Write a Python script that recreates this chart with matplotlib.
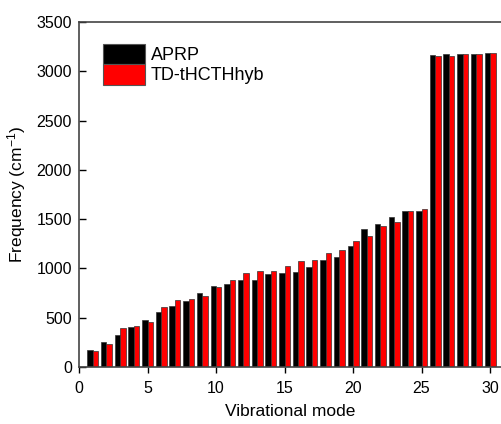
import numpy as np
import matplotlib.pyplot as plt

plt.rcParams['font.family'] = ['Liberation Sans', 'DejaVu Sans']
plt.rcParams['mathtext.default'] = 'regular'

# 振動モード
modes = np.arange(1, 31)

# APRP の振動数 (cm^-1)
aprp = [173, 252, 329, 407, 472, 553, 621, 669, 754, 825,
        845, 879, 879, 947, 954, 964, 1015, 1090, 1117, 1229,
        1400, 1450, 1522, 1585, 1585, 3170, 3171, 3171, 3171, 3182]

# TD-tHCTHhyb の振動数 (cm^-1)
tdhcth = [166, 238, 400, 414, 458, 604, 675, 692, 720, 811,
          879, 952, 972, 972, 1025, 1080, 1087, 1155, 1182, 1283,
          1334, 1432, 1466, 1578, 1602, 3155, 3158, 3171, 3171, 3182]

fig = plt.figure(figsize=(5.01, 4.24), dpi=100)
ax = fig.add_axes([79 / 501, 57 / 424, 422 / 501, 345 / 424])

w = 0.4
ax.bar(modes - w / 2, aprp, width=w, color='black', edgecolor='#333333', lw=0.5, label='APRP')
ax.bar(modes + w / 2, tdhcth, width=w, color='#ff0000', edgecolor='#333333', lw=0.5, label='TD-tHCTHhyb')

ax.set_xlim(0, 30.8)
ax.set_ylim(0, 3500)
ax.set_xticks(range(0, 31, 5))
ax.set_yticks(range(0, 3501, 500))
ax.tick_params(axis='x', direction='out', length=4, width=1, pad=6, labelsize=11.5)
ax.tick_params(axis='y', direction='in', length=5, width=1, pad=5, labelsize=11.5)
for s in ax.spines.values():
    s.set_color('#444444')
    s.set_linewidth(1.2)
ax.spines['right'].set_visible(False)

ax.set_xlabel('Vibrational mode', fontsize=12.5, labelpad=6)
ax.set_ylabel('Frequency (cm$^{-1}$)', fontsize=12.5, labelpad=6)

leg = ax.legend(loc='upper left', bbox_to_anchor=(103 / 501, 1 - 44 / 424), bbox_transform=fig.transFigure,
                frameon=False, fontsize=13, handlelength=2.3, handleheight=1.35,
                labelspacing=0.0, handletextpad=0.35, borderpad=0, borderaxespad=0)
for p in leg.get_patches():
    p.set_edgecolor('#555555')
    p.set_linewidth(0.8)

fig.savefig('out.png', dpi=100)
